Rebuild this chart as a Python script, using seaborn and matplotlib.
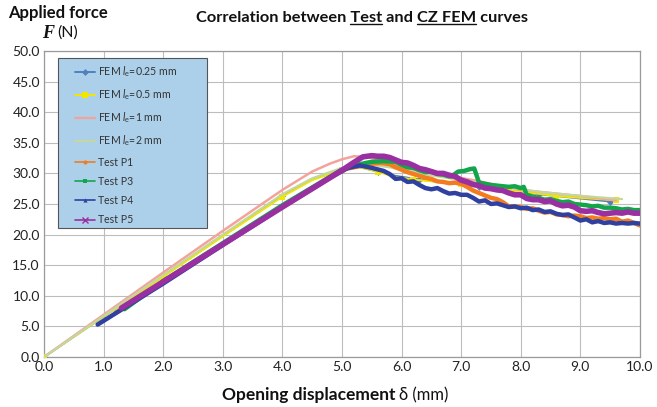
import numpy as np
import pandas as pd
import matplotlib
matplotlib.use("Agg")
import matplotlib.pyplot as plt
from matplotlib.lines import Line2D
from matplotlib.patches import Rectangle
import seaborn as sns

# ---------------- data ----------------
fem025_x = [0, 1, 2, 3, 4, 4.5, 5.0, 5.3, 5.6, 5.9, 6.3, 6.8, 7.3, 7.8, 8.3, 8.8, 9.5]
fem025_y = [0, 6.6, 13.2, 19.8, 26.3, 29.0, 30.6, 31.0, 30.3, 29.6, 29.0, 28.4, 27.8, 27.2, 26.6, 26.1, 25.4]

fem05_x = [0, 1, 2, 3, 4, 4.5, 5.0, 5.3, 5.6, 5.85, 6.2, 6.6, 7.0, 7.4, 7.8, 8.2, 8.6, 9.0, 9.6]
fem05_y = [0, 6.6, 13.1, 19.7, 26.2, 28.9, 30.6, 31.0, 30.3, 29.5, 29.0, 28.6, 28.2, 27.7, 27.2, 26.8, 26.3, 26.0, 25.6]

fem1_x = [0, 1, 2, 3, 4, 4.5, 4.8, 5.0, 5.2, 5.4, 5.6, 6.0, 6.4, 6.8, 7.2, 7.6, 8.0, 8.5, 9.0, 9.6]
fem1_y = [0, 6.9, 13.8, 20.6, 27.3, 30.3, 31.6, 32.3, 32.8, 32.7, 32.3, 31.0, 30.2, 29.6, 28.9, 28.1, 27.3, 26.8, 26.3, 25.6]

fem2_x = [0, 1, 2, 3, 4, 4.5, 5.0, 5.4, 5.8, 6.3, 6.8, 7.3, 7.8, 8.3, 8.8, 9.3, 9.7]
fem2_y = [0, 6.7, 13.4, 20.0, 26.6, 29.2, 30.9, 31.5, 31.0, 30.0, 29.2, 28.5, 27.7, 27.0, 26.5, 26.1, 25.8]

p1_x = [1.2, 2.0, 3.0, 4.0, 5.0, 5.3, 5.5, 5.65, 5.8, 5.9, 6.0, 6.1, 6.2, 6.3, 6.4, 6.5, 6.6, 6.7, 6.8, 6.9,
        7.0, 7.1, 7.2, 7.3, 7.4, 7.5, 7.6, 7.7, 7.8, 7.9, 8.0, 8.1, 8.2, 8.3, 8.4, 8.5, 8.6, 8.7, 8.8, 8.9,
        9.0, 9.1, 9.2, 9.3, 9.4, 9.5, 9.6, 9.7, 9.8, 9.9, 10.0]
p1_y = [7.2, 12.2, 18.4, 24.6, 30.6, 31.2, 31.6, 31.7, 31.5, 31.0, 30.6, 30.2, 29.9, 29.6, 29.3, 29.1, 28.7, 28.6, 28.4, 28.5,
        28.3, 27.8, 27.2, 26.8, 26.4, 26.0, 25.8, 25.3, 24.6, 24.6, 24.5, 24.2, 24.3, 23.9, 23.6, 23.7, 23.3, 23.2, 23.0, 23.1,
        23.0, 22.7, 22.8, 22.6, 22.7, 22.5, 22.6, 22.1, 22.3, 21.9, 21.5]

p3_x = [1.35, 2.0, 3.0, 4.0, 5.0, 5.3, 5.5, 5.7, 5.9, 6.0, 6.1, 6.2, 6.3, 6.4, 6.5, 6.6, 6.7, 6.8, 6.85, 6.95,
        7.05, 7.15, 7.22, 7.3, 7.4, 7.5, 7.6, 7.7, 7.8, 7.9, 8.0, 8.05, 8.1, 8.2, 8.3, 8.4, 8.5, 8.6, 8.7, 8.8,
        8.9, 9.0, 9.1, 9.2, 9.3, 9.4, 9.5, 9.6, 9.7, 9.8, 9.9, 10.0]
p3_y = [7.8, 12.4, 18.6, 24.8, 30.6, 31.5, 31.9, 32.0, 31.9, 31.4, 31.0, 30.9, 30.5, 30.2, 30.3, 29.9, 29.8, 29.5, 29.6, 30.3,
        30.4, 30.7, 30.8, 28.5, 28.3, 28.1, 28.0, 27.9, 27.8, 27.9, 27.6, 27.8, 26.5, 26.2, 26.0, 25.7, 25.8, 25.5, 25.3, 25.4,
        25.0, 24.9, 24.8, 24.6, 24.7, 24.4, 24.4, 24.3, 24.1, 24.2, 24.0, 24.0]

p4_x = [0.9, 2.0, 3.0, 4.0, 4.8, 5.1, 5.3, 5.5, 5.7, 5.8, 5.9, 6.0, 6.1, 6.2, 6.3, 6.4, 6.5, 6.6, 6.7, 6.8,
        6.9, 7.0, 7.1, 7.2, 7.3, 7.4, 7.5, 7.6, 7.7, 7.8, 7.9, 8.0, 8.1, 8.2, 8.3, 8.4, 8.5, 8.6, 8.7, 8.8,
        8.9, 9.0, 9.1, 9.2, 9.3, 9.4, 9.5, 9.6, 9.7, 9.8, 9.9, 10.0]
p4_y = [5.3, 12.0, 18.3, 24.5, 29.3, 30.9, 31.3, 30.9, 30.4, 29.9, 29.1, 29.2, 28.6, 28.7, 28.1, 27.6, 27.4, 27.6, 27.1, 26.7,
        26.8, 26.5, 26.5, 26.0, 25.4, 25.6, 25.0, 25.1, 24.8, 24.5, 24.6, 24.3, 24.4, 24.0, 24.1, 23.7, 23.8, 23.4, 23.2, 23.3,
        22.8, 22.3, 22.5, 22.0, 22.2, 21.9, 22.0, 21.8, 21.9, 21.8, 21.9, 21.8]

p5_x = [1.3, 2.0, 3.0, 4.0, 5.0, 5.2, 5.35, 5.5, 5.6, 5.7, 5.8, 5.9, 6.0, 6.1, 6.2, 6.3, 6.4, 6.5, 6.6, 6.7,
        6.8, 6.9, 7.0, 7.1, 7.2, 7.3, 7.4, 7.5, 7.6, 7.7, 7.8, 7.9, 8.0, 8.1, 8.2, 8.3, 8.4, 8.5, 8.6, 8.7,
        8.8, 8.9, 9.0, 9.1, 9.2, 9.3, 9.4, 9.5, 9.6, 9.7, 9.8, 9.9, 10.0]
p5_y = [8.0, 12.3, 18.4, 24.5, 30.5, 31.8, 32.7, 32.9, 32.8, 32.8, 32.6, 32.2, 31.8, 31.7, 31.3, 30.8, 30.6, 30.3, 30.0, 30.0,
        29.7, 29.5, 28.9, 28.6, 28.2, 28.0, 27.6, 27.5, 27.3, 27.2, 26.8, 26.5, 26.5, 25.9, 25.7, 25.7, 25.4, 25.5, 25.0, 24.7,
        24.8, 24.5, 23.9, 23.8, 23.9, 23.6, 23.4, 23.5, 23.6, 23.5, 23.7, 23.5, 23.5]

labels = [r"FEM $\mathit{l}_{\mathrm{e}}$=0.25 mm", r"FEM $\mathit{l}_{\mathrm{e}}$=0.5 mm",
          r"FEM $\mathit{l}_{\mathrm{e}}$=1 mm", r"FEM $\mathit{l}_{\mathrm{e}}$=2 mm",
          "Test P1", "Test P3", "Test P4", "Test P5"]
x_ticks = [0, 1, 2, 3, 4, 5, 6, 7, 8, 9, 10]
y_ticks = [0, 5, 10, 15, 20, 25, 30, 35, 40, 45, 50]

# ---------------- style ----------------
sns.set_theme(style="white")
plt.rcParams["font.family"] = ["Lato", "DejaVu Sans"]
plt.rcParams["mathtext.fontset"] = "custom"
plt.rcParams["mathtext.rm"] = "Lato"
plt.rcParams["mathtext.it"] = "Lato:italic"
plt.rcParams["mathtext.bf"] = "Lato:bold"

fig = plt.figure(figsize=(6.57, 4.07), dpi=100)
ax = fig.add_axes([0.067, 0.1229, 0.907, 0.7518])

series = [
    (fem025_x, fem025_y, "#4f81bd", 1.4, "D", 3.5, 2),
    (fem05_x, fem05_y, "#f2e600", 1.4, "s", 5, 2),
    (fem1_x, fem1_y, "#f4a39c", 1.8, None, 0, 1),
    (fem2_x, fem2_y, "#c4d79c", 1.6, None, 0, 1),
    (p1_x, p1_y, "#f47c20", 3.2, None, 0, 1),
    (p3_x, p3_y, "#13a54a", 3.2, None, 0, 1),
    (p4_x, p4_y, "#2f40a0", 3.2, None, 0, 1),
    (p5_x, p5_y, "#9a2fa2", 4.0, None, 0, 1),
]
for i, (xs, ys, c, lw, mk, ms, me) in enumerate(series):
    df = pd.DataFrame({"x": xs, "y": ys})
    kw = {}
    if mk is not None:
        kw = dict(marker=mk, markersize=ms, markevery=me, markeredgewidth=0)
    sns.lineplot(data=df, x="x", y="y", ax=ax, color=c, linewidth=lw, sort=False,
                 estimator=None, legend=False, zorder=3 + i, **kw)

ax.set_xlim(0, 10)
ax.set_ylim(0, 50)
ax.set_xticks(x_ticks)
ax.set_yticks(y_ticks)
ax.set_xticklabels([f"{v:.1f}" for v in x_ticks])
ax.set_yticklabels([f"{v:.1f}" for v in y_ticks])
ax.tick_params(axis="both", length=0, labelsize=10, colors="#222222", pad=3)
ax.grid(True, color="#bdbdbd", linewidth=0.8)
for s in ax.spines.values():
    s.set_color("#9a9a9a")
    s.set_linewidth(0.9)
ax.set_xlabel("")
ax.set_ylabel("")

# legend box (drawn as a patch) + legend entries
ax.add_patch(Rectangle((0.0235, 0.4216), 0.25, 0.5554, transform=ax.transAxes,
                       facecolor="#acd0ea", edgecolor="#555555", linewidth=0.8, zorder=19))
handles = [
    Line2D([], [], color="#4f81bd", lw=1.4, marker="D", ms=3.5, mew=0),
    Line2D([], [], color="#f2e600", lw=1.4, marker="s", ms=5, mew=0),
    Line2D([], [], color="#f4a39c", lw=1.6),
    Line2D([], [], color="#c4d79c", lw=1.6),
    Line2D([], [], color="#f47c20", lw=1.2, marker="o", ms=3, mew=0),
    Line2D([], [], color="#13a54a", lw=1.2, marker="s", ms=3, mew=0),
    Line2D([], [], color="#2f40a0", lw=1.2, marker="^", ms=3, mew=0),
    Line2D([], [], color="#9a2fa2", lw=1.2, marker="x", ms=4, mew=1),
]
leg = ax.legend(handles, labels, loc="upper left", bbox_to_anchor=(0.052, 0.956),
                frameon=False, fontsize=7.6, labelspacing=0.78, handlelength=1.9,
                handletextpad=0.25, borderpad=0, borderaxespad=0, labelcolor="#333333")
leg.set_zorder(20)

# y-axis label
fig.text(8 / 657, 1 - 13 / 407, "Applied force", fontsize=12, fontweight="bold",
         ha="left", va="center", color="#111111")
fig.text(54 / 657, 1 - 33 / 407, "F", fontsize=13, fontweight="bold", fontstyle="italic",
         family=["Liberation Serif"], ha="right", va="center", color="#111111")
fig.text(57 / 657, 1 - 33 / 407, "(N)", fontsize=11.5, ha="left", va="center", color="#111111")

# x-axis label
fig.text(396 / 657, 1 - 395 / 407, "Opening displacement", fontsize=12.5, fontweight="bold",
         ha="right", va="center", color="#111111")
fig.text(399 / 657, 1 - 395 / 407, "δ (mm)", fontsize=12, ha="left", va="center",
         color="#111111")

# title with underlined words
title_full = "Correlation between Test and CZ FEM curves"
tx0, ty0 = 196 / 657, 1 - 18 / 407
tkw = dict(fontsize=11.8, fontweight="bold", color="#111111")
t = fig.text(tx0, ty0, title_full, ha="left", va="center", **tkw)
fig.canvas.draw()
r = fig.canvas.get_renderer()
def width_of(s):
    tt = fig.text(0, 0, s, **tkw)
    w = tt.get_window_extent(r).width
    tt.remove()
    return w
bb = t.get_window_extent(r)
x0px = bb.x0
for prefix, word in [("Correlation between Test", "Test"), ("Correlation between Test and CZ FEM", "CZ FEM")]:
    right = x0px + width_of(prefix)
    left = right - width_of(word)
    yline = bb.y0 + 1
    fig.add_artist(Line2D([left / fig.bbox.width, right / fig.bbox.width],
                          [yline / fig.bbox.height] * 2, color="#111111", lw=1.0,
                          transform=fig.transFigure))

fig.savefig("out.png", dpi=100)
